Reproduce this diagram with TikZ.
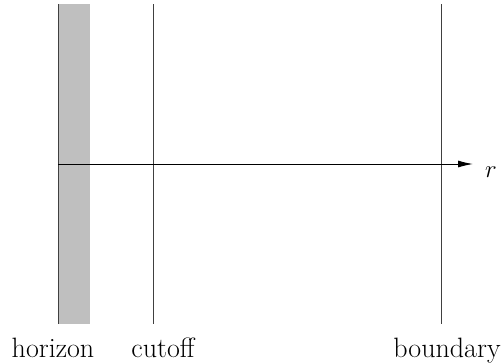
\documentclass[tikz,border=0pt]{standalone}
\usetikzlibrary{arrows.meta,positioning}

\begin{document}
\begin{tikzpicture}[x=1pt,y=-1pt,
  wall/.style={line width=1pt, black!75},
  lbl/.style={font=\fontsize{28}{32}\selectfont, inner sep=0pt, anchor=base}
  ]
    \useasboundingbox (0,0) rectangle (503,362);

    % shaded region next to the horizon
    \fill[gray!50] (58,4) rectangle (90,324);

    \coordinate (htop) at (58,4);
    \coordinate (hbot) at (58,324);
    \coordinate (ctop) at (153,4);
    \coordinate (cbot) at (153,324);
    \coordinate (btop) at (441,4);
    \coordinate (bbot) at (441,324);

    \draw[wall] (htop) -- (hbot);
    \draw[wall] (ctop) -- (cbot);
    \draw[wall] (btop) -- (bbot);

    \coordinate (origin) at (58,164);
    \node [lbl, anchor=center] (r) at (491,172) {$r$};
    \coordinate (tip) at (473,164);
    \draw[line width=1pt, -{Latex[length=15pt,width=7pt]}] (origin) -- (tip);

    \node [lbl] (horizon) at (53,357) {horizon};
    \node [lbl] (cutoff) at (163,357) {cutoff};
    \node [lbl] (boundary) at (447,357) {boundary};
\end{tikzpicture}
\end{document}
